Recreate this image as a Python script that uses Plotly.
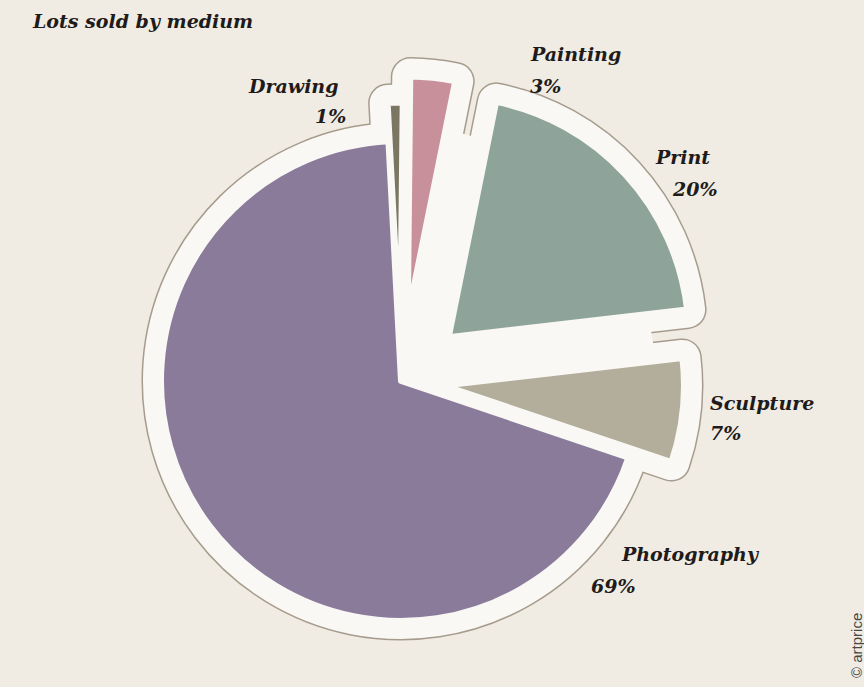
import plotly.graph_objects as go

# ---- data ----
mediums = ["Drawing", "Painting", "Print", "Sculpture", "Photography"]
shares = [1, 3, 20, 7, 69]
colors = ["#7a7662", "#c8909a", "#8ea49a", "#b3ad9b", "#8a7b9b"]
pulls = [0.16, 0.27, 0.27, 0.18, 0.0]

W, H = 864, 687
BG = "#f0ece3"
WHITE = "#faf8f4"
EDGE = "#a69c8d"

# pie geometry (layout only)
cx, cy, R = 401, 381, 240
half = R * (1 + max(pulls))
dom_x = [(cx - half) / W, (cx + half) / W]
dom_y = [max(0, 1 - (cy + half) / H), 1 - (cy - half) / H]

common = dict(
    labels=mediums, values=shares, pull=pulls, sort=False,
    direction="clockwise", rotation=-3, textinfo="none",
    hoverinfo="skip", showlegend=False,
    domain=dict(x=dom_x, y=dom_y),
)

fig = go.Figure()
# outer grey edge of the white band
fig.add_trace(go.Pie(marker=dict(colors=[EDGE] * len(mediums),
                                 line=dict(color=EDGE, width=39)), **common))
# white band
fig.add_trace(go.Pie(marker=dict(colors=[WHITE] * len(mediums),
                                 line=dict(color=WHITE, width=36)), **common))
# white hub disc filling the gaps between exploded slices
hub = 255
fig.add_trace(go.Pie(values=[1], labels=["hub"], sort=False, textinfo="none",
                     hoverinfo="skip", showlegend=False,
                     marker=dict(colors=[WHITE], line=dict(width=0)),
                     domain=dict(x=[(cx - hub) / W, (cx + hub) / W],
                                 y=[1 - (cy + hub) / H, 1 - (cy - hub) / H])))
# coloured slices
fig.add_trace(go.Pie(marker=dict(colors=colors,
                                 line=dict(color=WHITE, width=6)), **common))

# ---- labels ----
label_pos = {
    # name: (name x px, name y px, anchor, pct x px, pct y px)
    "Drawing": (340, 86, "right", 348, 116),
    "Painting": (528, 54, "left", 528, 86),
    "Print": (712, 157, "right", 720, 189),
    "Sculpture": (708, 403, "left", 708, 433),
    "Photography": (619, 554, "left", 589, 586),
}
SERIF = "DejaVu Serif, Liberation Serif, serif"
font = dict(family=SERIF, size=19, color="#1e1b1a")
for name, val in zip(mediums, shares):
    x, yn, anc, xp, yp = label_pos[name]
    fig.add_annotation(x=x / W, y=1 - yn / H, xref="paper", yref="paper",
                       text=f"<b><i>{name}</i></b>", showarrow=False,
                       xanchor=anc, yanchor="middle", font=font)
    fig.add_annotation(x=xp / W, y=1 - yp / H, xref="paper", yref="paper",
                       text=f"<b><i>{val}%</i></b>", showarrow=False,
                       xanchor=anc, yanchor="middle", font=font)

fig.add_annotation(x=30 / W, y=1 - 21 / H, xref="paper", yref="paper",
                   text="<b><i>Lots sold by medium</i></b>", showarrow=False,
                   xanchor="left", yanchor="middle",
                   font=dict(family=SERIF, size=19, color="#1e1b1a"))
fig.add_annotation(x=856 / W, y=1 - 646 / H, xref="paper", yref="paper",
                   text="© artprice", showarrow=False, textangle=-90,
                   xanchor="center", yanchor="middle",
                   font=dict(family="Liberation Sans, Arial, sans-serif", size=15, color="#4a4744"))

fig.update_layout(width=W, height=H, margin=dict(l=0, r=0, t=0, b=0),
                  paper_bgcolor=BG, plot_bgcolor=BG)
fig.write_html("out.html", config={"displayModeBar": False},
               post_script="document.body.style.margin='0';")
